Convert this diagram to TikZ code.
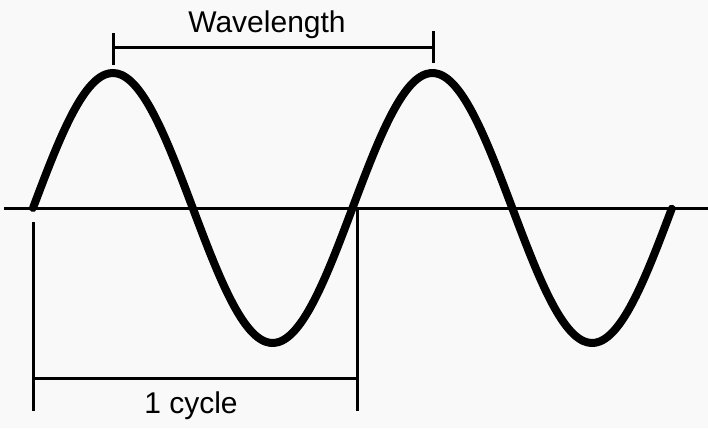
\documentclass[tikz,border=0pt]{standalone}
\usepackage{fontspec}
\setmainfont{Liberation Sans}
\usetikzlibrary{positioning}
\tikzset{wave/.style = {line width=8pt, line cap=round, line join=round},
         bar/.style = {line width=3pt},
         lbl/.style = {font=\fontsize{30}{36}\selectfont, inner sep=0pt}}
\definecolor{paper}{rgb}{0.975, 0.975, 0.975}

\begin{document}
\begin{tikzpicture}[x=1pt, y=-1pt]
    \fill [paper] (0, 0) rectangle (708, 428);
    \useasboundingbox (0, 0) rectangle (708, 428);

    % axis and the wave
    \coordinate (axisL) at (4, 208);
    \coordinate (axisR) at (708, 208);
    \draw [bar] (axisL) -- (axisR);
    \draw [wave] plot [domain=0:2, samples=160, smooth]
        ({33 + 319.5*\x}, {208 - 135*sin(360*\x)});

    % wavelength bracket
    \coordinate (peakA) at (113, 48);
    \coordinate (peakB) at (433, 48);
    \draw [bar] (peakA) -- (peakB);
    \draw [bar] ([yshift=-17pt]peakA) -- ([yshift=15pt]peakA);
    \draw [bar] ([yshift=-15pt]peakB) -- ([yshift=17pt]peakB);
    \node [lbl, anchor=base] (wavelabel) at (267, 33) {Wavelength};

    % cycle bracket
    \coordinate (cycA) at (33, 378);
    \coordinate (cycB) at (357, 378);
    \draw [bar] (cycA) -- (cycB);
    \draw [bar] (33, 222) -- (33, 411);
    \draw [bar] (357, 209) -- (357, 411);
    \node [lbl, anchor=base] (cyclelabel) at (191, 413) {1 cycle};
\end{tikzpicture}
\end{document}
